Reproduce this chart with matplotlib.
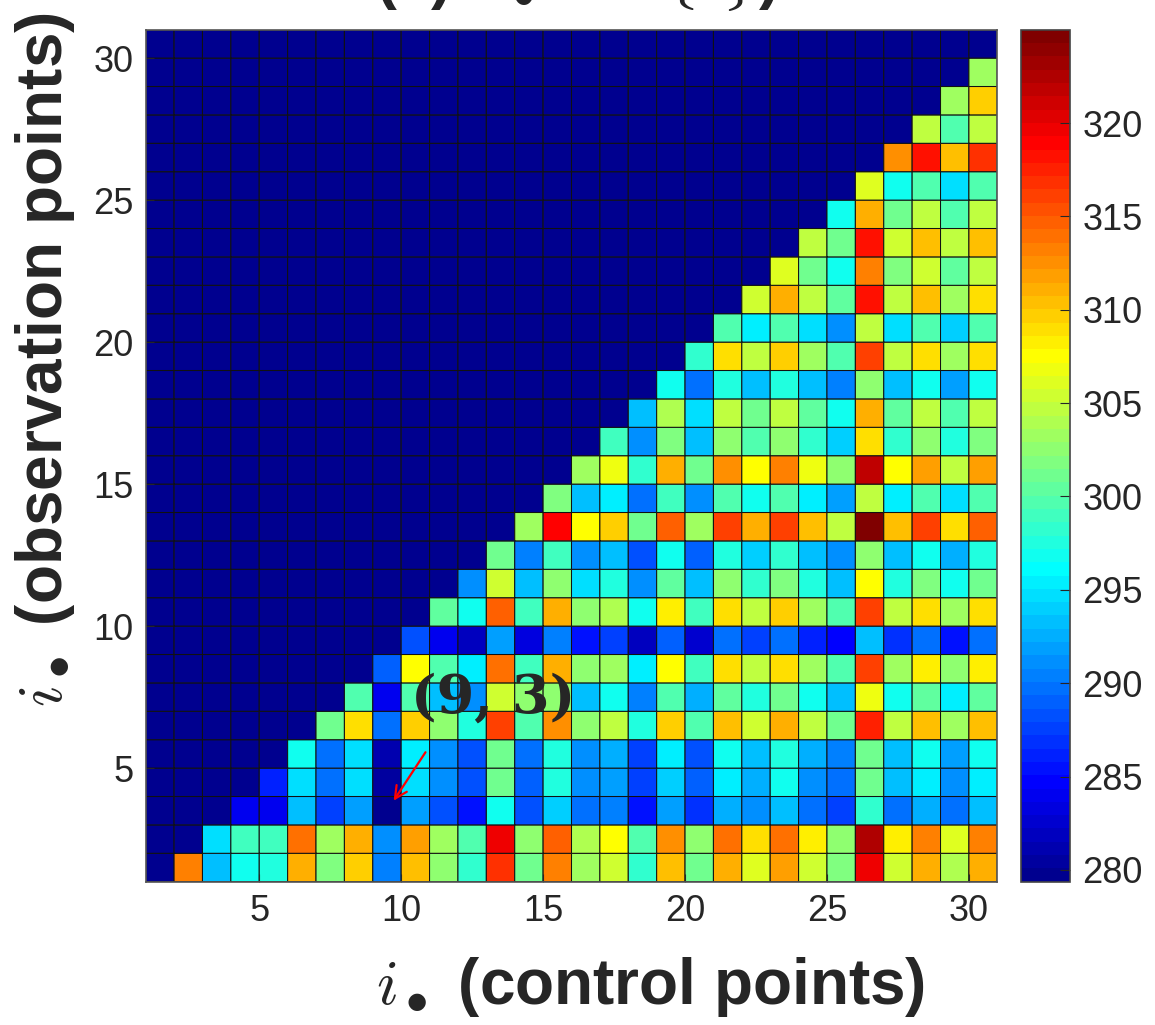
import numpy as np
import matplotlib
matplotlib.use("Agg")
import matplotlib.pyplot as plt
from matplotlib.colors import ListedColormap

plt.rcParams['mathtext.fontset'] = 'cm'
plt.rcParams['font.family'] = ['Liberation Sans', 'DejaVu Sans']

# values of the lower triangle, row r holds columns r+1 .. 30
r1 = [313.0, 293.6, 296.5, 297.5, 311.3, 301.6, 309.6, 290.2, 310.2, 302.2, 298.2, 317.0, 301.0, 313.0, 303.3,
      305.6, 298.2, 310.2, 301.0, 311.3, 306.2, 311.5, 305.6, 301.6, 319.3, 305.6, 311.1, 304.0, 310.8]
r2 = [294.8, 298.8, 298.8, 313.6, 303.3, 311.3, 290.8, 312.0, 303.3, 299.7, 319.3, 302.2, 314.7, 304.0,
      307.5, 299.7, 312.5, 302.2, 313.6, 308.8, 313.6, 307.9, 302.8, 322.4, 307.9, 313.0, 306.2, 313.0]
r3 = [284.0, 284.3, 293.6, 287.4, 292.0, 279.5, 292.0, 288.5, 285.7, 296.5, 288.0, 294.2, 289.7, 290.2,
      285.7, 292.0, 286.8, 292.6, 290.8, 293.6, 289.7, 287.4, 298.2, 289.7, 292.6, 289.7, 293.1]
r4 = [286.2, 294.8, 289.7, 294.8, 280.5, 294.8, 290.8, 288.5, 301.0, 289.1, 297.6, 290.8, 292.0, 287.4,
      294.2, 289.1, 295.4, 292.6, 296.5, 291.4, 289.7, 301.0, 293.1, 295.4, 291.4, 295.4]
r5 = [296.5, 289.7, 294.8, 281.0, 295.4, 290.8, 288.5, 301.0, 289.7, 297.6, 291.4, 292.6, 287.4, 295.4,
      288.5, 296.5, 293.1, 297.6, 292.6, 290.2, 301.0, 293.1, 296.5, 292.0, 296.5]
r6 = [301.0, 308.7, 289.7, 309.6, 302.2, 297.6, 316.4, 299.7, 312.5, 302.2, 304.6, 297.6, 309.6, 299.7,
      310.2, 305.6, 310.8, 305.0, 301.0, 317.7, 305.0, 310.2, 303.3, 310.2]
r7 = [299.4, 284.0, 299.7, 293.6, 290.8, 305.6, 302.2, 302.2, 293.6, 296.5, 290.2, 299.7, 292.6, 300.5,
      297.6, 301.0, 296.5, 293.1, 306.7, 296.5, 300.5, 295.7, 300.5]
r8 = [289.1, 307.3, 299.7, 295.4, 313.6, 298.8, 310.8, 302.2, 303.3, 295.4, 307.5, 298.8, 309.0, 304.6,
      309.0, 303.3, 299.4, 315.9, 303.3, 307.9, 302.2, 307.9]
r9 = [288.5, 284.0, 281.7, 292.0, 283.4, 290.2, 285.7, 287.4, 281.7, 289.1, 282.8, 289.7, 287.4, 289.7,
      286.2, 284.6, 293.1, 286.8, 289.7, 285.1, 289.7]
r10 = [300.5, 296.5, 314.7, 298.8, 310.8, 302.2, 304.0, 296.5, 307.9, 298.8, 309.0, 304.6, 309.6, 303.3,
       299.4, 315.9, 304.6, 308.8, 303.3, 309.0]
r11 = [290.8, 305.6, 293.1, 302.8, 294.8, 297.6, 290.8, 300.5, 293.1, 302.2, 298.2, 301.6, 297.3, 293.6,
       307.5, 297.3, 301.6, 296.5, 301.0]
r12 = [301.0, 290.2, 298.8, 291.4, 293.6, 288.0, 296.5, 289.1, 297.6, 294.2, 298.2, 293.1, 290.8, 302.2,
       293.6, 297.0, 292.6, 297.6]
r13 = [303.3, 318.7, 307.5, 309.4, 301.0, 314.9, 303.3, 315.9, 310.8, 316.4, 310.2, 305.0, 325.0, 310.2,
       315.9, 308.7, 314.9]
r14 = [301.6, 293.6, 295.7, 289.7, 298.8, 291.4, 299.4, 296.5, 299.7, 295.4, 292.0, 305.0, 295.7, 299.7,
       294.4, 299.4]
r15 = [303.3, 306.7, 298.2, 310.8, 301.0, 312.2, 307.5, 313.0, 306.7, 302.2, 321.8, 307.3, 311.5, 305.0, 311.5]
r16 = [298.8, 291.4, 301.6, 293.1, 302.2, 299.4, 302.8, 298.2, 294.2, 308.8, 298.2, 302.2, 297.6, 301.6]
r17 = [293.1, 304.0, 294.8, 304.6, 301.0, 305.0, 300.5, 296.5, 310.8, 300.5, 304.6, 299.4, 304.6]
r18 = [296.5, 289.7, 297.6, 293.1, 297.6, 293.3, 290.2, 302.2, 293.6, 296.5, 292.0, 296.5]
r19 = [298.2, 308.7, 305.0, 309.6, 303.3, 299.7, 316.4, 304.6, 308.7, 303.3, 308.7]
r20 = [299.7, 295.4, 299.7, 294.8, 291.4, 304.6, 294.8, 299.4, 294.2, 299.4]
r21 = [305.6, 310.8, 305.0, 300.5, 318.0, 305.0, 310.2, 303.3, 309.2]
r22 = [306.4, 301.0, 297.0, 313.0, 301.6, 305.6, 300.5, 305.0]
r23 = [305.0, 301.0, 318.4, 305.6, 310.2, 304.6, 310.2]
r24 = [296.5, 311.3, 301.0, 304.6, 299.4, 304.6]
r25 = [306.4, 296.5, 299.7, 294.8, 299.7]
r26 = [312.2, 318.0, 310.2, 317.0]
r27 = [305.0, 299.4, 305.0]
r28 = [303.3, 309.6]
r29 = [303.3]

rows = [r1, r2, r3, r4, r5, r6, r7, r8, r9, r10, r11, r12, r13, r14, r15, r16, r17, r18, r19, r20,
        r21, r22, r23, r24, r25, r26, r27, r28, r29]

n = 30
vmin = 279.37
vmax = 325.0
fill_value = vmin  # upper triangle drawn with the lowest colour

ticks = [5, 10, 15, 20, 25, 30]
cbar_ticks = [280, 285, 290, 295, 300, 305, 310, 315, 320]


def matlab_jet(m=64):
    k = int(np.ceil(m / 4))
    u = np.concatenate([np.arange(1, k + 1) / k, np.ones(k - 1), np.arange(k, 0, -1) / k])
    g = int(np.ceil(k / 2)) - (1 if m % 4 == 1 else 0) + np.arange(1, len(u) + 1)
    r = g + k
    b = g - k
    g = g[g <= m]
    r = r[r <= m]
    b = b[b >= 1]
    J = np.zeros((m, 3))
    J[r - 1, 0] = u[:len(r)]
    J[g - 1, 1] = u[:len(g)]
    J[b - 1, 2] = u[-len(b):]
    return ListedColormap(J)


C = np.full((n, n), fill_value)
for i, vals in enumerate(rows):
    C[i, i + 1:] = vals

edges = np.arange(1, n + 2)

W, H = 1155, 1025
fig = plt.figure(figsize=(W / 100, H / 100), dpi=100)
ax = fig.add_axes([145.7 / W, 1 - 881.7 / H, 851.6 / W, 852 / H])
cax = fig.add_axes([1020.7 / W, 1 - 881.7 / H, 49.3 / W, 852 / H])

tc = '#262626'
mesh = ax.pcolormesh(edges, edges, C, cmap=matlab_jet(64), vmin=vmin, vmax=vmax,
                     edgecolors='#111111', linewidth=0.75, antialiased=True)
mesh.set_snap(False)
ax.set_xlim(1, 31)
ax.set_ylim(1, 31)
ax.set_xticks(ticks)
ax.set_yticks(ticks)
ax.tick_params(direction='in', length=6, labelsize=26, colors=tc, pad=9)
for s in ax.spines.values():
    s.set_color('#555555')
    s.set_linewidth(1.2)

ax.annotate('', xy=(9.68, 3.77), xytext=(10.91, 5.64),
            arrowprops=dict(arrowstyle='->', color='red', lw=1.6, mutation_scale=22))
ax.text(13.23, 7.44, '(9, 3)', ha='center', va='center', fontsize=39, fontweight='bold',
        family='DejaVu Serif', color=tc)

cb = fig.colorbar(mesh, cax=cax)
cb.set_ticks(cbar_ticks)
cax.tick_params(direction='in', length=7, labelsize=26, colors=tc, pad=9)
cb.outline.set_edgecolor('#444444')
cb.outline.set_linewidth(1.2)

fig.text(651 / W, 1 - 987 / H, r'$i_\bullet$ (control points)', ha='center', va='center',
         fontsize=46, fontweight='bold', color=tc)
fig.text(45 / W, 1 - 360 / H, r'$i_\bullet$ (observation points)', ha='center', va='center',
         rotation=90, fontsize=46, fontweight='bold', color=tc)
# title is cut off by the top edge of the figure, as in the source image
fig.text(576 / W, 1 + 3 / H, r'(a) $\sigma_\bullet$ for $\{i\}$)', ha='center', va='baseline',
         fontsize=45, fontweight='bold', color=tc)

fig.savefig('out.png', dpi=100)
